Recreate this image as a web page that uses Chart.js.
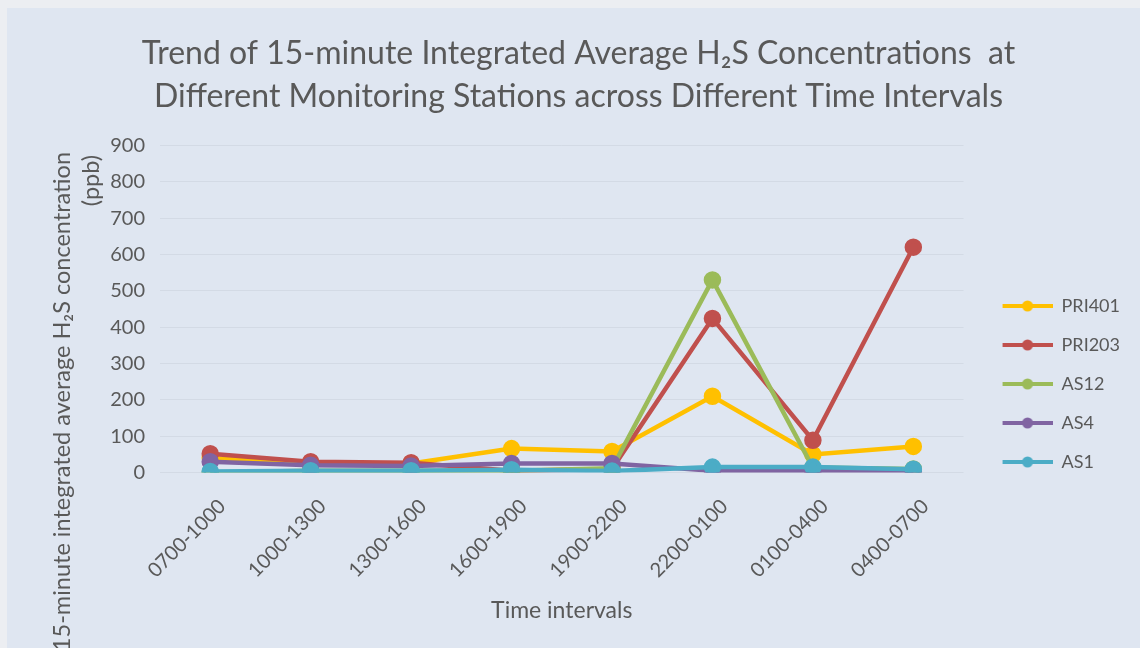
<!DOCTYPE html>
<html>
<head>
<meta charset="utf-8">
<script src="https://cdn.jsdelivr.net/npm/chart.js@4.4.1/dist/chart.umd.min.js"></script>
<style>
  html, body { margin: 0; padding: 0; background: #eceef2; }
  #wrap { position: absolute; left: 7px; top: 8px; width: 1133px; height: 640px; background: #dfe6f1; }
</style>
</head>
<body>
<div id="wrap"><canvas id="lineChart" width="1133" height="640"></canvas></div>
<script>
const timeIntervals = ["0700-1000", "1000-1300", "1300-1600", "1600-1900", "1900-2200", "2200-0100", "0100-0400", "0400-0700"];
const pri401 = [40, 25, 25, 66, 58, 210, 50, 72];
const pri203 = [52, 30, 27, 5, 10, 424, 89, 620];
const as12 = [0, 5, 5, 5, 12, 530, 14, 10];
const as4 = [30, 20, 18, 25, 25, 5, 5, 2];
const as1 = [3, 5, 5, 8, 4, 15, 15, 9];
const yTicks = [0, 100, 200, 300, 400, 500, 600, 700, 800, 900];
const colors = ["#ffc000", "#c0504d", "#9bbb59", "#8064a2", "#4bacc6"];

const font = "Lato, 'Open Sans', sans-serif";
const textColor = "#595959";

// little line + dot for the legend, like the excel one (left part kept empty for spacing)
function legendMark(color) {
    let c = document.createElement("canvas");
    c.width = 68; c.height = 14;
    let x = c.getContext("2d");
    x.strokeStyle = color;
    x.lineWidth = 4;
    x.beginPath(); x.moveTo(18, 7); x.lineTo(68, 7); x.stroke();
    x.fillStyle = color;
    x.beginPath(); x.arc(43, 7, 5.5, 0, Math.PI * 2); x.fill();
    return c;
}
const marks = colors.map(legendMark);

function series(label, data, color, order) {
    return {
        label: label,
        data: data,
        borderColor: color,
        backgroundColor: color,
        pointBackgroundColor: color,
        pointBorderColor: color,
        borderWidth: 4.5,
        pointRadius: 6.5,
        pointHoverRadius: 6.5,
        tension: 0,
        fill: false,
        order: order
    };
}

// y axis title is wrapped and runs off the bottom in the original, draw it by hand
const yTitlePlugin = {
    id: "yTitle",
    afterDraw(chart) {
        let ctx = chart.ctx;
        ctx.save();
        ctx.fillStyle = textColor;
        ctx.font = "23.5px " + font;
        ctx.textAlign = "right";
        ctx.textBaseline = "middle";
        ctx.translate(55, 144);
        ctx.rotate(-Math.PI / 2);
        ctx.fillText("15-minute integrated average H\u2082S concentration", 0, 0);
        ctx.fillText("(ppb)", -3, 29);
        ctx.restore();
    }
};

new Chart("lineChart", {
    type: "line",
    data: {
        labels: timeIntervals,
        datasets: [
            series("PRI401", pri401, colors[0], 5),
            series("PRI203", pri203, colors[1], 4),
            series("AS12", as12, colors[2], 3),
            series("AS4", as4, colors[3], 2),
            series("AS1", as1, colors[4], 1)
        ]
    },
    options: {
        responsive: false,
        animation: false,
        layout: { padding: { left: 20, right: 10, top: 0, bottom: 18 } },
        plugins: {
            title: {
                display: true,
                text: ["Trend of 15-minute Integrated Average H\u2082S Concentrations  at",
                       "Different Monitoring Stations across Different Time Intervals"],
                color: textColor,
                font: { family: font, size: 32, weight: "normal", lineHeight: 1.35 },
                padding: { top: 24, bottom: 27 }
            },
            legend: {
                position: "right",
                align: "center",
                title: {
                    display: true,
                    text: " ",
                    font: { size: 20 },
                    padding: 53
                },
                labels: {
                    usePointStyle: true,
                    pointStyleWidth: 68,
                    color: textColor,
                    font: { family: font, size: 18 },
                    padding: 21,
                    sort: (a, b) => a.datasetIndex - b.datasetIndex,
                    generateLabels(chart) {
                        let items = Chart.defaults.plugins.legend.labels.generateLabels(chart);
                        items.forEach(it => { it.pointStyle = marks[it.datasetIndex]; });
                        return items;
                    }
                }
            },
            tooltip: { enabled: false }
        },
        scales: {
            x: {
                offset: true,
                grid: { display: false },
                border: { display: false },
                ticks: {
                    color: textColor,
                    font: { family: font, size: 20 },
                    maxRotation: 45,
                    minRotation: 45,
                    labelOffset: 12,
                    padding: 14
                },
                title: {
                    display: true,
                    text: "Time intervals",
                    color: textColor,
                    font: { family: font, size: 23 },
                    padding: { top: 0, bottom: 6 }
                }
            },
            y: {
                min: 0,
                max: 900,
                afterBuildTicks(axis) { axis.ticks = yTicks.map(v => ({ value: v })); },
                afterFit(axis) { axis.width = 133; },
                grid: { color: "#d3dae5", lineWidth: 1, drawTicks: false },
                border: { display: false },
                ticks: {
                    color: textColor,
                    font: { family: font, size: 20 },
                    padding: 15
                }
            }
        }
    },
    plugins: [yTitlePlugin]
});
</script>
</body>
</html>
